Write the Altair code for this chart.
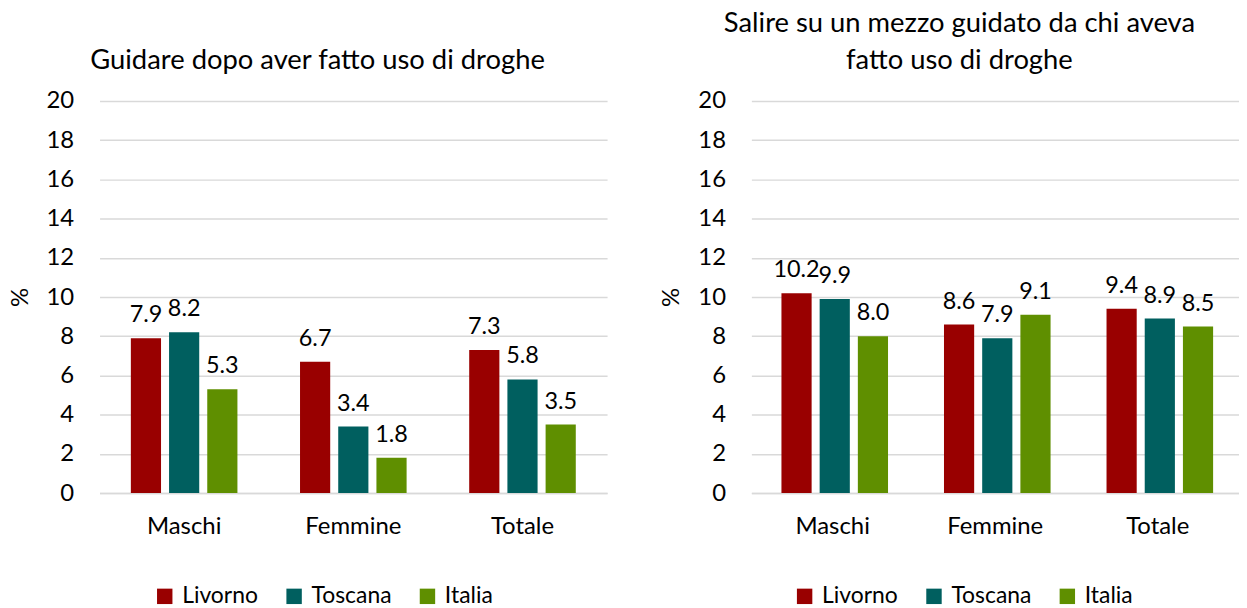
import altair as alt
import pandas as pd

categories = ["Maschi", "Femmine", "Totale"]
series = ["Livorno", "Toscana", "Italia"]
colors = ["#990000", "#005F5F", "#5F8F00"]

left_title = "Guidare dopo aver fatto uso di droghe"
left_livorno = [7.9, 6.7, 7.3]
left_toscana = [8.2, 3.4, 5.8]
left_italia = [5.3, 1.8, 3.5]

right_title = ["Salire su un mezzo guidato da chi  aveva", "fatto uso di droghe"]
right_livorno = [10.2, 8.6, 9.4]
right_toscana = [9.9, 7.9, 8.9]
right_italia = [8.0, 9.1, 8.5]

y_ticks = list(range(0, 21, 2))

FONT = "Lato"


def make_df(liv, tos, ita):
    rows = []
    for s, vals in zip(series, [liv, tos, ita]):
        for c, v in zip(categories, vals):
            rows.append({"cat": c, "serie": s, "val": v})
    return pd.DataFrame(rows)


def panel(df, title, width, legend_x):
    base = alt.Chart(df).encode(
        x=alt.X(
            "cat:N",
            sort=categories,
            scale=alt.Scale(paddingInner=0.37, paddingOuter=0.185),
            axis=alt.Axis(
                title=None, labelAngle=0, ticks=False, labelPadding=22,
                domainColor="#d9d9d9", domainWidth=1.5,
                labelFontSize=24, labelFont=FONT, labelColor="black",
            ),
        ),
        xOffset=alt.XOffset(
            "serie:N", sort=series,
            scale=alt.Scale(paddingInner=0.21, paddingOuter=0),
        ),
        y=alt.Y(
            "val:Q",
            scale=alt.Scale(domain=[0, 20], nice=False),
            axis=alt.Axis(
                values=y_ticks, title="%", domain=False, ticks=False,
                labelPadding=26, titlePadding=14,
                labelFontSize=24, labelFont=FONT, labelColor="black",
                titleFontSize=24, titleFont=FONT, titleFontWeight="normal",
                titleColor="black", gridColor="#d9d9d9", gridWidth=1.5,
            ),
        ),
    )
    bars = base.mark_bar().encode(
        color=alt.Color(
            "serie:N", sort=series,
            scale=alt.Scale(domain=series, range=colors),
            legend=alt.Legend(
                title=None, orient="none", direction="horizontal",
                legendX=legend_x, legendY=486,
                symbolType="square", symbolSize=240, symbolStrokeWidth=0,
                symbolOpacity=1,
                labelFontSize=23, labelFont=FONT, labelColor="black",
                labelOffset=6, columnPadding=24,
            ),
        )
    )
    labels = base.mark_text(
        baseline="bottom", dy=-11, fontSize=23.5, font=FONT, color="black"
    ).encode(text=alt.Text("val:Q", format=".1f"))
    return alt.layer(bars, labels).properties(
        width=width,
        height=394,
        title=alt.TitleParams(
            text=title, fontSize=27.5, font=FONT, fontWeight="normal",
            color="black", anchor="middle", frame="bounds", offset=15,
            lineHeight=37, dx=10,
        ),
    )


left = panel(make_df(left_livorno, left_toscana, left_italia), left_title, 510, 54)
right = panel(make_df(right_livorno, right_toscana, right_italia), right_title, 490, 42)

chart = (
    alt.hconcat(left, right, spacing=145, bounds="flush")
    .resolve_scale(color="independent")
    .resolve_legend(color="independent")
    .properties(padding=0)
    .configure_view(stroke=None)
)

chart.save("out.html", embed_options={"renderer": "svg", "actions": False})
